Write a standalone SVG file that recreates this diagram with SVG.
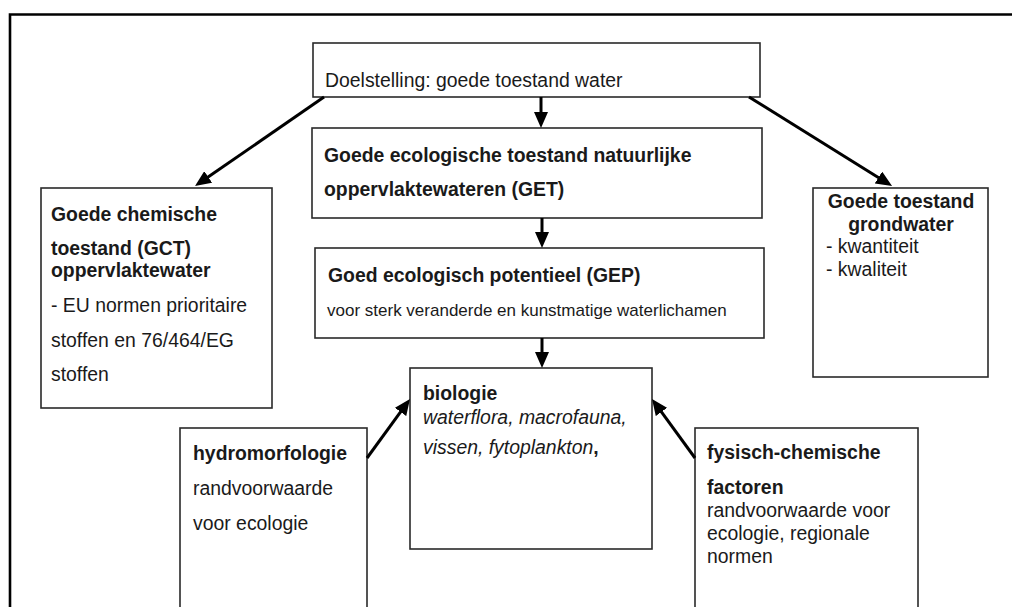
<svg xmlns="http://www.w3.org/2000/svg" width="1012" height="607" viewBox="0 0 1012 607">
<style>
text{font-family:"Liberation Sans",Arial,sans-serif;font-size:19.4px;fill:#1a1a1a}
.b{font-weight:bold}
.i{font-style:italic}
.s{font-size:17px}
.box{fill:#fff;stroke:#2a2a2a;stroke-width:1.6}
.frame{fill:none;stroke:#000;stroke-width:2.6}
.arr{fill:none;stroke:#000;stroke-width:3}
</style>
<defs>
<marker id="ah" markerUnits="userSpaceOnUse" markerWidth="16" markerHeight="14" refX="5" refY="7" orient="auto">
<path d="M0,0 L16,7 L0,14 z" fill="#000"/>
</marker>
</defs>
<rect width="1012" height="607" fill="#fff"/>
<path class="frame" d="M10,607 L10,14.5 L1012,14.5"/>

<g id="n-doel">
<rect class="box" x="313" y="43" width="447" height="54"/>
<text x="325" y="87">Doelstelling: goede toestand water</text>
</g>
<g id="n-get">
<rect class="box" x="312" y="128" width="450" height="90"/>
<text class="b" x="324" y="162">Goede ecologische toestand natuurlijke</text>
<text class="b" x="324" y="196">oppervlaktewateren (GET)</text>
</g>
<g id="n-gep">
<rect class="box" x="315" y="248" width="449" height="90"/>
<text class="b" x="328" y="282">Goed ecologisch potentieel (GEP)</text>
<text class="s" x="327" y="316">voor sterk veranderde en kunstmatige waterlichamen</text>
</g>
<g id="n-gct">
<rect class="box" x="41" y="188" width="231" height="220"/>
<text class="b" x="51" y="221">Goede chemische</text>
<text class="b" x="51" y="255">toestand (GCT)</text>
<text class="b" x="51" y="277">oppervlaktewater</text>
<text x="51" y="312">- EU normen prioritaire</text>
<text x="51" y="347">stoffen en 76/464/EG</text>
<text x="51" y="381">stoffen</text>
</g>
<g id="n-grond">
<rect class="box" x="813" y="188" width="175" height="189"/>
<text class="b" x="901" y="208" text-anchor="middle">Goede toestand</text>
<text class="b" x="901" y="231" text-anchor="middle">grondwater</text>
<text x="826" y="253">- kwantiteit</text>
<text x="826" y="276">- kwaliteit</text>
</g>
<g id="n-bio">
<rect class="box" x="410" y="368" width="242" height="181"/>
<text class="b" x="423" y="400">biologie</text>
<text class="i" x="423" y="424">waterflora, macrofauna,</text>
<text x="423" y="454"><tspan class="i">vissen, fytoplankton</tspan><tspan class="b">,</tspan></text>
</g>
<g id="n-hydro">
<rect class="box" x="180" y="428" width="187" height="190"/>
<text class="b" x="193" y="460">hydromorfologie</text>
<text x="193" y="495">randvoorwaarde</text>
<text x="193" y="530">voor ecologie</text>
</g>
<g id="n-fys">
<rect class="box" x="695" y="428" width="223" height="190"/>
<text class="b" x="707" y="459">fysisch-chemische</text>
<text class="b" x="707" y="494">factoren</text>
<text x="707" y="517">randvoorwaarde voor</text>
<text x="707" y="540">ecologie, regionale</text>
<text x="707" y="563">normen</text>
</g>

<g id="connectors">
<line class="arr" x1="324" y1="97" x2="204.1" y2="179.8" marker-end="url(#ah)"/>
<line class="arr" x1="749" y1="97" x2="882.7" y2="180.2" marker-end="url(#ah)"/>
<line class="arr" x1="541" y1="97" x2="541" y2="117" marker-end="url(#ah)"/>
<line class="arr" x1="542" y1="218" x2="542" y2="237" marker-end="url(#ah)"/>
<line class="arr" x1="542" y1="338" x2="542" y2="357" marker-end="url(#ah)"/>
<line class="arr" x1="367" y1="458" x2="403.5" y2="407.9" marker-end="url(#ah)"/>
<line class="arr" x1="695" y1="458" x2="658.5" y2="407.9" marker-end="url(#ah)"/>
</g>
</svg>
